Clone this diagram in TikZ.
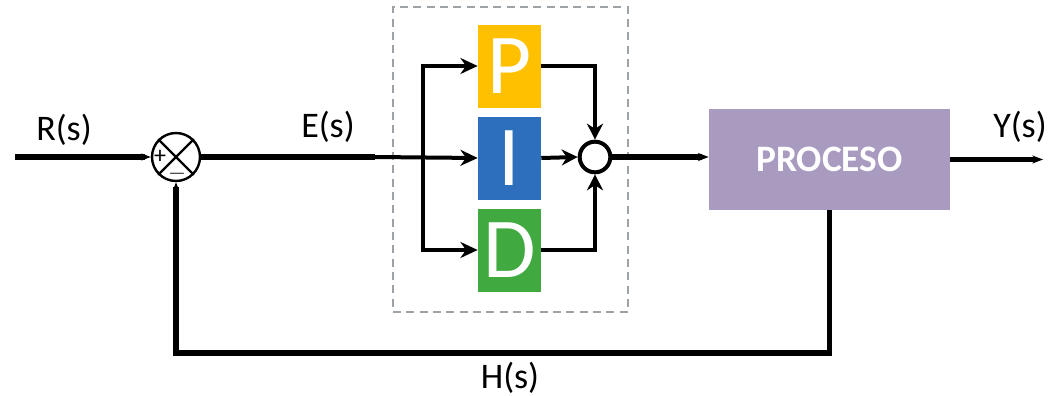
\documentclass[tikz,border=0pt]{standalone}
\usepackage{fontspec}
\setmainfont{Carlito}
\usetikzlibrary{arrows.meta, positioning, calc}
\definecolor{pYellow}{HTML}{FFC000}
\definecolor{iBlue}{HTML}{2E6FBD}
\definecolor{dGreen}{HTML}{40AA40}
\definecolor{procPurple}{HTML}{A99AC0}
\definecolor{frameGray}{HTML}{9EA3A8}

\begin{document}
\begin{tikzpicture}[x=0.75pt, y=-0.75pt,
  sig/.style={line width=4.2pt, draw=black},
  pidline/.style={line width=3pt, draw=black},
  term/.style={minimum width=47.25pt, minimum height=62.25pt, inner sep=0pt,
    text=white, font=\fontsize{64}{64}\selectfont},
  lbl/.style={font=\fontsize{27}{27}\selectfont, inner sep=0pt}
]
  \useasboundingbox (0,0) rectangle (1057,396);

  % PID frame
  \node[draw=frameGray, line width=1.5pt, dash pattern=on 6pt off 4pt,
    minimum width=176.25pt, minimum height=228.75pt] (pidbox) at (510.5,159.5) {};

  % terms
  \node[term, fill=pYellow] (P) at (509.5,66) {P};
  \node[term, fill=iBlue]   (I) at (509.5,158) {I};
  \node[term, fill=dGreen]  (D) at (509.5,250) {D};

  % summing junctions
  \node[draw, circle, line width=1.8pt, minimum size=36pt, inner sep=0pt] (sum) at (176,157) {};
  \draw[line width=1.8pt] (sum.north east) -- (sum.south west)
    (sum.north west) -- (sum.south east);
  \node[font=\fontsize{18}{18}\selectfont, inner sep=0pt] (plus) at ($(sum.center)+(-16,0)$) {+};
  \node[font=\fontsize{18}{18}\selectfont, inner sep=0pt] (minus) at ($(sum.center)+(1,17)$) {$-$};

  \node[draw, circle, line width=3pt, minimum size=23pt, inner sep=0pt] (add) at (595,157) {};

  % plant
  \node[fill=procPurple, minimum width=180.75pt, minimum height=75.75pt,
    text=white, font=\fontsize{28}{28}\selectfont\bfseries] (proc) at (829.5,159.5) {PROCESO};

  % labels
  \node[lbl] (R) at (64,130) {R(s)};
  \node[lbl] (E) at (328,127) {E(s)};
  \node[lbl] (Y) at (1020,127) {Y(s)};
  \node[lbl] (H) at (510,378) {H(s)};

  \coordinate (in) at (15,157);
  \coordinate (enter) at (375,157);
  \coordinate (split) at (423,157);
  \coordinate (out) at (1043,159.5);
  \coordinate (fb) at (176,353);

  \draw[sig, -{Stealth[length=7pt]}] (in) -- (sum.west);
  \draw[sig] (sum.east) -- (enter);
  \draw[pidline, -{Stealth[length=13pt, width=12pt]}] (enter) -- (I.west);
  \draw[pidline, -{Stealth[length=13pt, width=12pt]}] (split) |- (P.west);
  \draw[pidline, -{Stealth[length=13pt, width=12pt]}] (split) |- (D.west);
  \draw[pidline, -{Stealth[length=12pt, width=12pt]}] (P.east) -| (add.north);
  \draw[pidline, -{Stealth[length=12pt, width=12pt]}] (D.east) -| (add.south);
  \draw[pidline, -{Stealth[length=12pt, width=12pt]}] (I.east) -- (add.west);
  \draw[sig, -{Stealth[length=8pt]}] (add.east) -- (add.east -| proc.west);
  \draw[sig, -{Stealth[length=8pt]}] (proc.east) -- (out);
  \draw[sig, -{Stealth[length=6pt]}] (proc.south) |- (fb) -- (sum.south);
\end{tikzpicture}
\end{document}
